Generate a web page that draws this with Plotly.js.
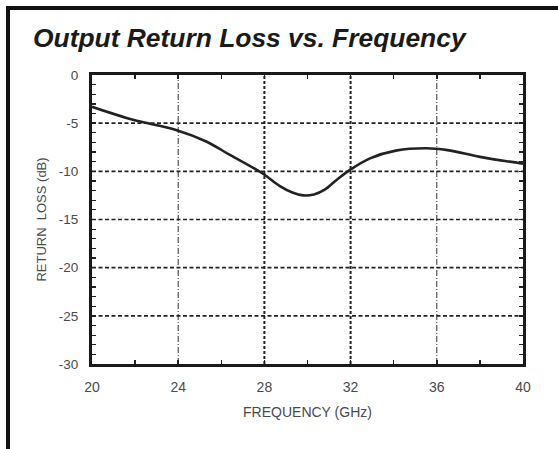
<!DOCTYPE html>
<html>
<head>
<meta charset="utf-8">
<script src="https://cdn.plot.ly/plotly-3.0.1.min.js"></script>
<style>
  html, body { margin: 0; padding: 0; background: #fff; }
  #wrap { position: relative; width: 558px; height: 449px; overflow: hidden; }
  #frame { position: absolute; left: 6px; top: 6px; width: 600px; height: 500px;
           border-left: 4px solid #111; border-top: 4px solid #111; pointer-events: none; }
  #chart { position: absolute; left: 0; top: 0; width: 558px; height: 449px; }
</style>
</head>
<body>
<div id="wrap">
  <div id="chart"></div>
  <div id="frame"></div>
</div>
<script>
const titleText = "Output Return Loss vs. Frequency";
const xTitle = "FREQUENCY (GHz)";
const yTitle = "RETURN  LOSS (dB)";

const freqGHz = [20, 21.9, 23.9, 25.3, 26.4, 27.9, 28.7, 29.3, 29.8, 30.3, 30.8, 31.35, 31.97, 32.9, 34.1, 35.5, 36.5, 38.0, 40];
const returnLossDb = [-3.3, -4.65, -5.7, -6.9, -8.3, -10.2, -11.5, -12.2, -12.5, -12.4, -11.9, -10.9, -9.85, -8.65, -7.85, -7.6, -7.8, -8.5, -9.2];

const xTicks = [20, 24, 28, 32, 36, 40];
const yTicks = [0, -5, -10, -15, -20, -25, -30];

const FONT = 'Liberation Sans, Arial, sans-serif';

const shapes = [];
[24, 36].forEach(v => shapes.push({type: 'line', xref: 'x', yref: 'paper', x0: v, x1: v, y0: 0, y1: 1,
  line: {color: '#333', width: 1, dash: '6px,2px,1px,2px'}, layer: 'below'}));
[28, 32].forEach(v => shapes.push({type: 'line', xref: 'x', yref: 'paper', x0: v, x1: v, y0: 0, y1: 1,
  line: {color: '#222', width: 2, dash: '3px,2px'}, layer: 'below'}));
[-5, -10, -15, -20, -25].forEach(v => shapes.push({type: 'line', xref: 'paper', yref: 'y', x0: 0, x1: 1, y0: v, y1: v,
  line: {color: '#222', width: 1.6, dash: '4px,2.5px'}, layer: 'below'}));

const trace = {
  x: freqGHz, y: returnLossDb, type: 'scatter', mode: 'lines',
  line: {color: '#222', width: 2.6, shape: 'spline', smoothing: 1},
  hoverinfo: 'skip'
};

const layout = {
  width: 558, height: 449,
  margin: {l: 92, r: 35, t: 75, b: 85},
  paper_bgcolor: '#fff', plot_bgcolor: '#fff',
  showlegend: false,
  title: {text: '<b><i>' + titleText + '</i></b>', x: 0, xref: 'container', xanchor: 'left',
          y: 1, yref: 'container', yanchor: 'top', pad: {t: 29, l: 33},
          font: {family: FONT, size: 26.4, color: '#1a1a1a'}},
  xaxis: {
    range: [20, 40], tickvals: xTicks, ticktext: xTicks.map(String),
    showgrid: false, zeroline: false,
    showline: true, linecolor: '#1a1a1a', linewidth: 3, mirror: 'allticks',
    ticks: 'inside', ticklen: 4, tickcolor: '#222', tickwidth: 1.5,
    minor: {dtick: 2, ticks: 'inside', ticklen: 4, tickcolor: '#222', tickwidth: 1.5, showgrid: false},
    tickfont: {family: FONT, size: 14, color: '#4a4a4a'},
    ticklabelstandoff: 8,
    title: {text: xTitle, standoff: 14, font: {family: FONT, size: 14, color: '#4a4a4a'}},
    fixedrange: true
  },
  yaxis: {
    range: [-30, 0], tickvals: yTicks, ticktext: yTicks.map(String),
    showgrid: false, zeroline: false,
    showline: true, linecolor: '#1a1a1a', linewidth: 3, mirror: 'allticks',
    ticks: 'inside', ticklen: 4, tickcolor: '#222', tickwidth: 1.5,
    minor: {dtick: 1, ticks: 'inside', ticklen: 4, tickcolor: '#222', tickwidth: 1.2, showgrid: false},
    tickfont: {family: FONT, size: 13.5, color: '#4a4a4a'},
    ticklabelstandoff: 8,
    title: {text: yTitle, standoff: 10, font: {family: FONT, size: 13, color: '#4a4a4a'}},
    fixedrange: true
  },
  shapes: shapes
};

Plotly.newPlot('chart', [trace], layout, {displayModeBar: false, staticPlot: true});
</script>
</body>
</html>
